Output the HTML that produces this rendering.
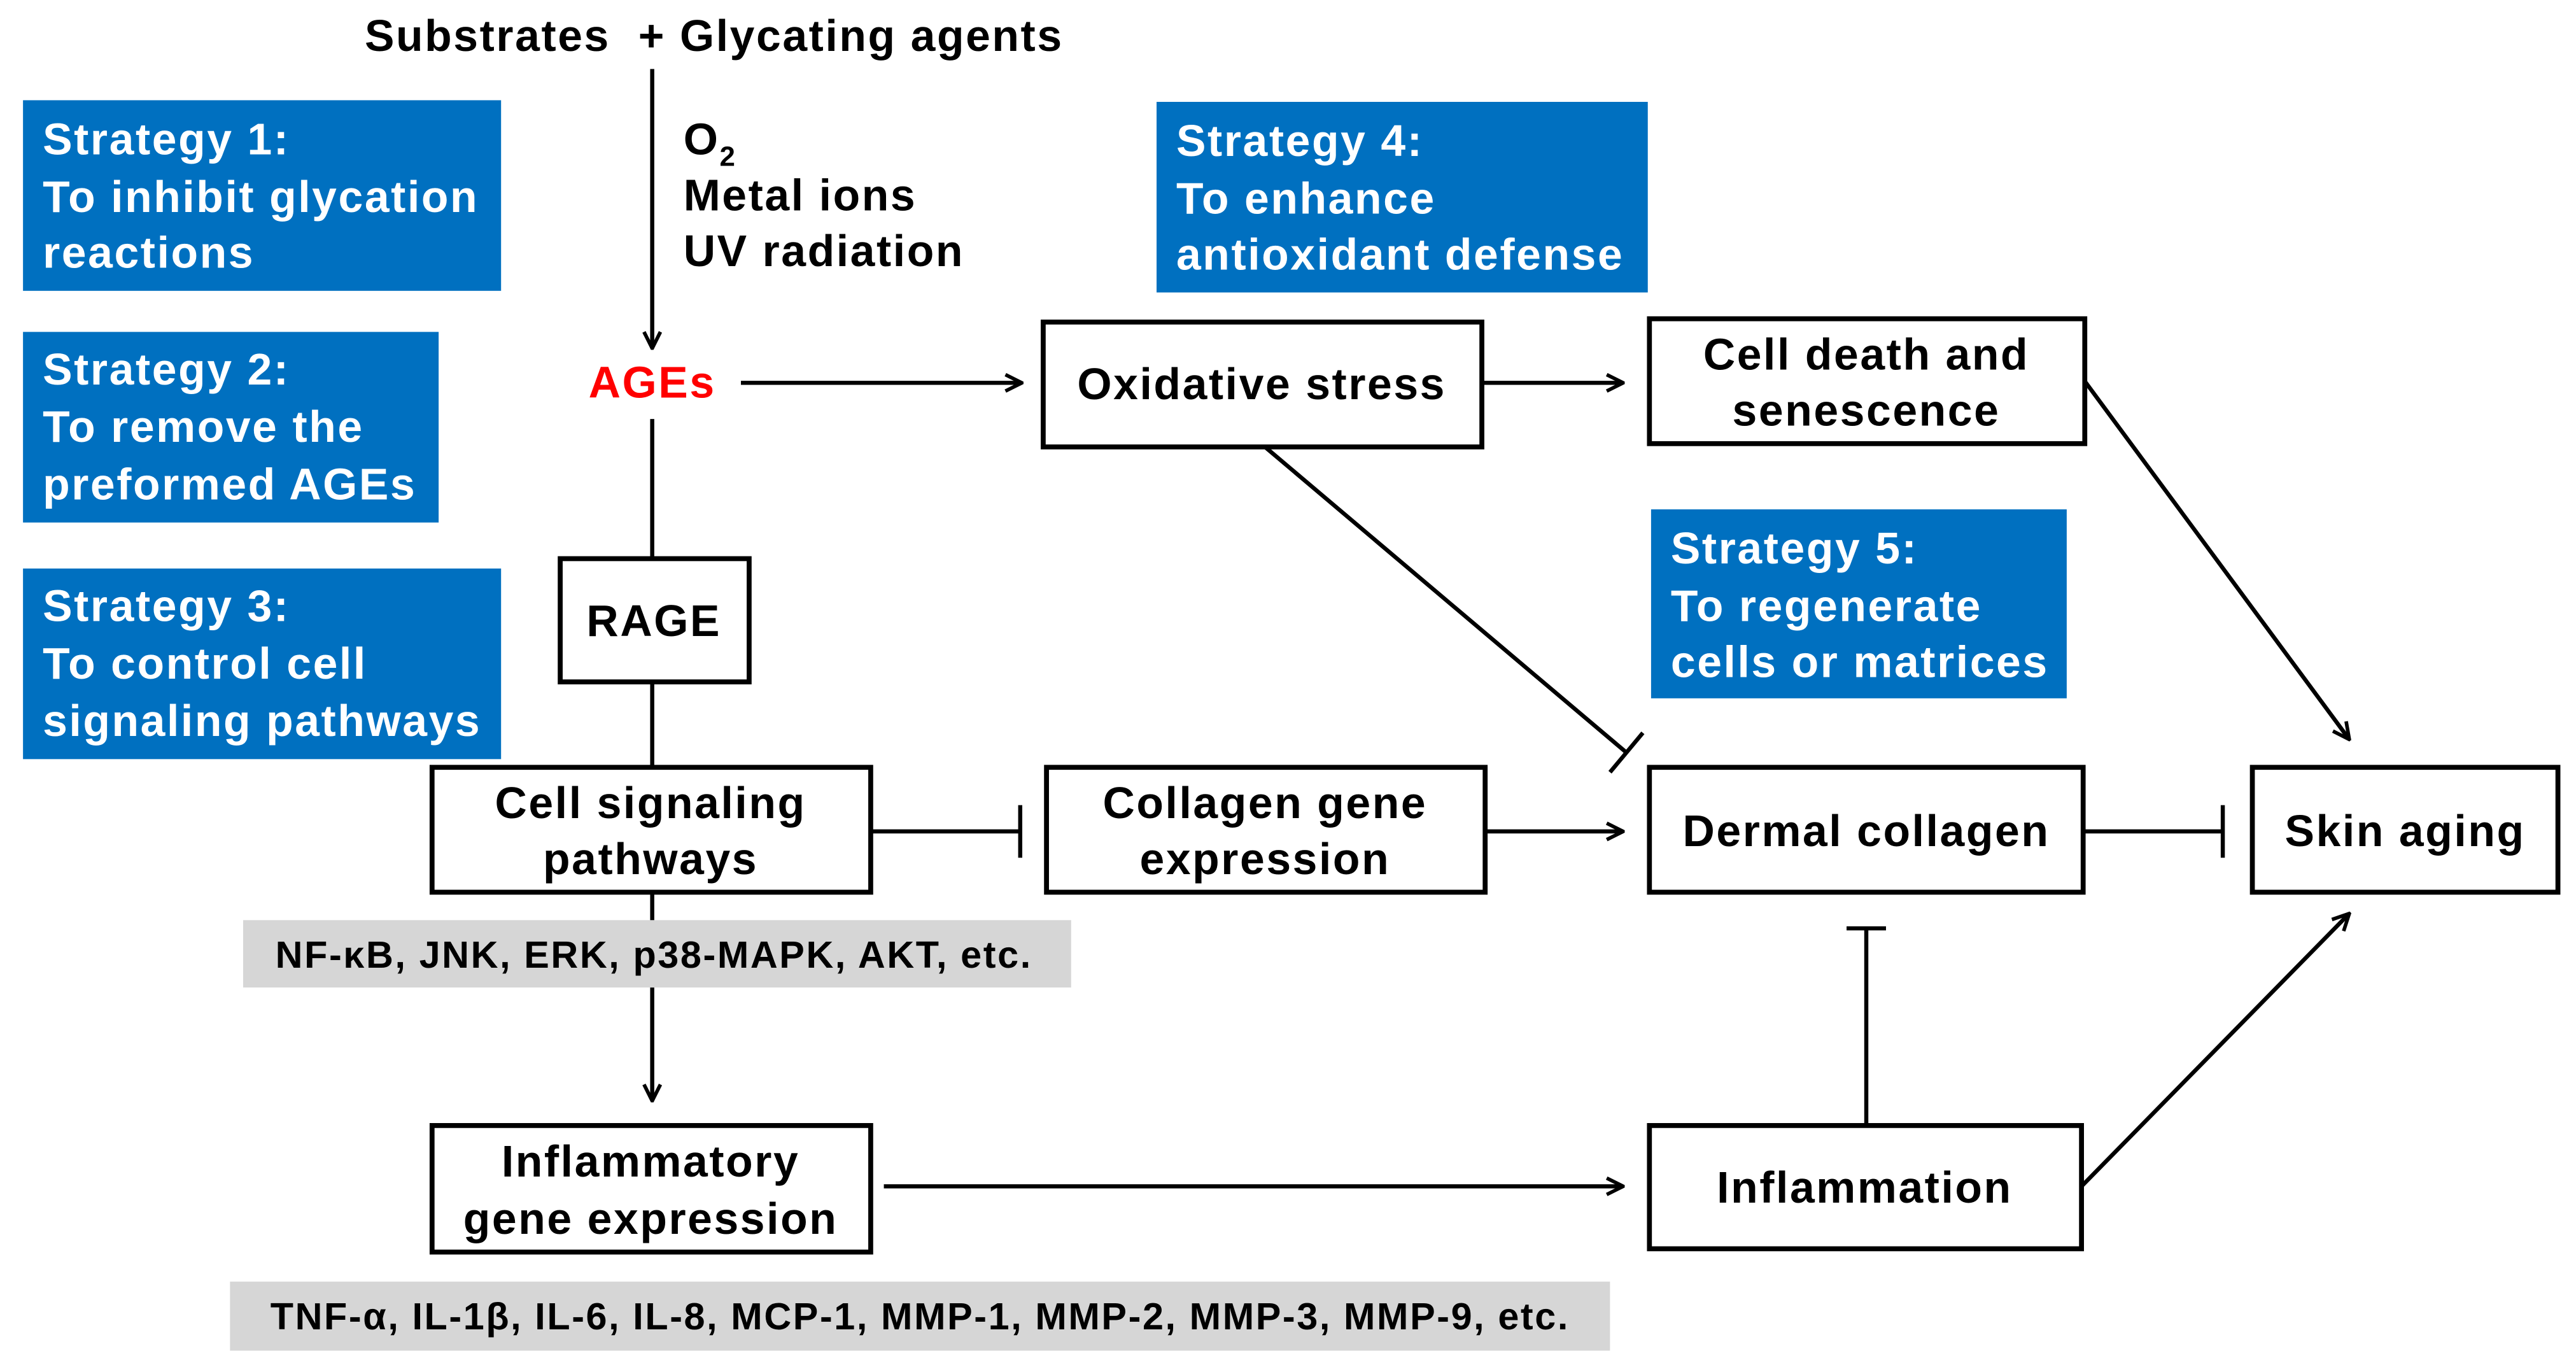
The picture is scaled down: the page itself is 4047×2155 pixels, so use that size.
<!DOCTYPE html>
<html><head><meta charset="utf-8"><style>
html,body{margin:0;padding:0;background:#fff;}
svg{display:block;}
text{font-family:"Liberation Sans",Arial,sans-serif;font-weight:bold;letter-spacing:1px;}
</style></head><body>
<svg width="4047" height="2155" viewBox="0 0 1568 835" preserveAspectRatio="none" xmlns="http://www.w3.org/2000/svg">
<defs>
<marker id="a" viewBox="0 0 12 12" refX="11" refY="6" markerWidth="12" markerHeight="12" markerUnits="userSpaceOnUse" orient="auto">
<path d="M1,1 L11,6 L1,11" fill="none" stroke="#000" stroke-width="2.2"/>
</marker>
</defs>
<g font-size="27" fill="#000">
<text x="222" y="31" xml:space="preserve">Substrates  + Glycating agents</text>
<text x="416" y="94">O<tspan font-size="17" dy="7">2</tspan></text>
<text x="416" y="128">Metal ions</text>
<text x="416" y="162">UV radiation</text>
</g>
<g fill="#0070C0">
<rect x="14" y="61" width="291" height="116"/>
<rect x="14" y="202" width="253" height="116"/>
<rect x="14" y="346" width="291" height="116"/>
<rect x="704" y="62" width="299" height="116"/>
<rect x="1005" y="310" width="253" height="115"/>
</g>
<g fill="#fff" font-size="27">
<text x="26" y="94">Strategy 1:</text><text x="26" y="129">To inhibit glycation</text><text x="26" y="163">reactions</text>
<text x="26" y="234">Strategy 2:</text><text x="26" y="269">To remove the</text><text x="26" y="304">preformed AGEs</text>
<text x="26" y="378">Strategy 3:</text><text x="26" y="413">To control cell</text><text x="26" y="448">signaling pathways</text>
<text x="716" y="95">Strategy 4:</text><text x="716" y="130">To enhance</text><text x="716" y="164">antioxidant defense</text>
<text x="1017" y="343">Strategy 5:</text><text x="1017" y="378">To regenerate</text><text x="1017" y="412">cells or matrices</text>
</g>
<rect x="148" y="560" width="504" height="41" fill="#D6D6D6"/>
<rect x="140" y="780" width="840" height="42" fill="#D6D6D6"/>
<g font-size="23" style="letter-spacing:1.3px">
<text x="398" y="589" text-anchor="middle">NF-κB, JNK, ERK, p38-MAPK, AKT, etc.</text>
<text x="560" y="809" text-anchor="middle">TNF-α, IL-1β, IL-6, IL-8, MCP-1, MMP-1, MMP-2, MMP-3, MMP-9, etc.</text>
</g>
<g fill="#fff" stroke="#000" stroke-width="3">
<rect x="635" y="196" width="267" height="76"/>
<rect x="1004" y="194" width="265" height="76"/>
<rect x="341" y="340" width="115" height="75"/>
<rect x="263" y="467" width="267" height="76"/>
<rect x="637" y="467" width="267" height="76"/>
<rect x="1004" y="467" width="264" height="76"/>
<rect x="1371" y="467" width="186" height="76"/>
<rect x="263" y="685" width="267" height="77"/>
<rect x="1004" y="685" width="263" height="75"/>
</g>
<g font-size="27" text-anchor="middle">
<text x="397" y="242" fill="#FF0000">AGEs</text>
<text x="768" y="243">Oxidative stress</text>
<text x="1136" y="225">Cell death and</text><text x="1136" y="259">senescence</text>
<text x="398" y="387">RAGE</text>
<text x="396" y="498">Cell signaling</text><text x="396" y="532">pathways</text>
<text x="770" y="498">Collagen gene</text><text x="770" y="532">expression</text>
<text x="1136" y="515">Dermal collagen</text>
<text x="1464" y="515">Skin aging</text>
<text x="396" y="716">Inflammatory</text><text x="396" y="751">gene expression</text>
<text x="1135" y="732">Inflammation</text>
</g>
<g stroke="#000" stroke-width="2.5" fill="none">
<line x1="397" y1="42" x2="397" y2="212" marker-end="url(#a)"/>
<line x1="451" y1="233" x2="622" y2="233" marker-end="url(#a)"/>
<line x1="902" y1="233" x2="988" y2="233" marker-end="url(#a)"/>
<line x1="397" y1="255" x2="397" y2="340"/>
<line x1="397" y1="415" x2="397" y2="467"/>
<line x1="530" y1="506" x2="621" y2="506"/><line x1="621" y1="490" x2="621" y2="522"/>
<line x1="904" y1="506" x2="988" y2="506" marker-end="url(#a)"/>
<line x1="1268" y1="506" x2="1353" y2="506"/><line x1="1353" y1="490" x2="1353" y2="522"/>
<line x1="770" y1="272" x2="990" y2="458"/><line x1="980" y1="470" x2="1000" y2="446"/>
<line x1="1269" y1="232" x2="1430" y2="450" marker-end="url(#a)"/>
<line x1="397" y1="543" x2="397" y2="560"/>
<line x1="397" y1="601" x2="397" y2="670" marker-end="url(#a)"/>
<line x1="538" y1="722" x2="988" y2="722" marker-end="url(#a)"/>
<line x1="1136" y1="685" x2="1136" y2="565"/><line x1="1124" y1="565" x2="1148" y2="565"/>
<line x1="1267" y1="722" x2="1430" y2="556" marker-end="url(#a)"/>
</g>
</svg>
</body></html>
